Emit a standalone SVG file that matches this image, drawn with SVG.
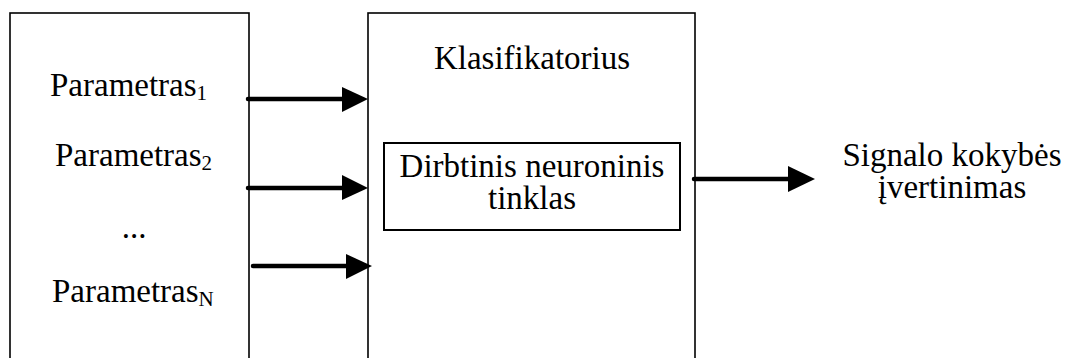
<svg xmlns="http://www.w3.org/2000/svg" width="1066" height="358" viewBox="0 0 1066 358">
<style>
.box{fill:#fff;stroke:#000;stroke-width:1.6}
.inner{fill:#fff;stroke:#000;stroke-width:2}
.t{font-size:33px;fill:#000}
.sub{font-size:21px}
.ln{stroke:#000;stroke-width:4.5;stroke-linecap:round;fill:none}
.hd{fill:#000}
</style>
<rect width="1066" height="358" fill="#fff"/>
<g font-family="Liberation Serif, Tinos, Times New Roman, DejaVu Serif, serif">
<g id="parametrai">
<rect class="box" x="10" y="13" width="239" height="360"/>
<text class="t" x="50" y="96">Parametras<tspan class="sub" dy="4">1</tspan></text>
<text class="t" x="55" y="166">Parametras<tspan class="sub" dy="4">2</tspan></text>
<text class="t" x="134" y="238" text-anchor="middle">...</text>
<text class="t" x="52" y="302">Parametras<tspan class="sub" dy="4">N</tspan></text>
</g>
<g id="klasifikatorius">
<rect class="box" x="368" y="13" width="327" height="360"/>
<text class="t" x="532" y="69" text-anchor="middle">Klasifikatorius</text>
</g>
<g id="tinklas">
<rect class="inner" x="384" y="143" width="296" height="87"/>
<text class="t" text-anchor="middle"><tspan x="532" y="177">Dirbtinis neuroninis</tspan><tspan x="532" y="209">tinklas</tspan></text>
</g>
<g id="ivertinimas">
<text class="t" text-anchor="middle"><tspan x="952" y="166">Signalo kokybės</tspan><tspan x="952" y="198">įvertinimas</tspan></text>
</g>
</g>
<g id="connectors">
<line class="ln" x1="248" y1="99" x2="344" y2="99"/>
<polygon class="hd" points="342,87 368,99 342,112"/>
<line class="ln" x1="248" y1="188" x2="344" y2="188"/>
<polygon class="hd" points="342,175 368,188 342,200"/>
<line class="ln" x1="253" y1="266" x2="348" y2="266"/>
<polygon class="hd" points="346,254 372,266 346,279"/>
<line class="ln" x1="694" y1="179" x2="790" y2="179"/>
<polygon class="hd" points="788,166 815,179 788,192"/>
</g>
</svg>
